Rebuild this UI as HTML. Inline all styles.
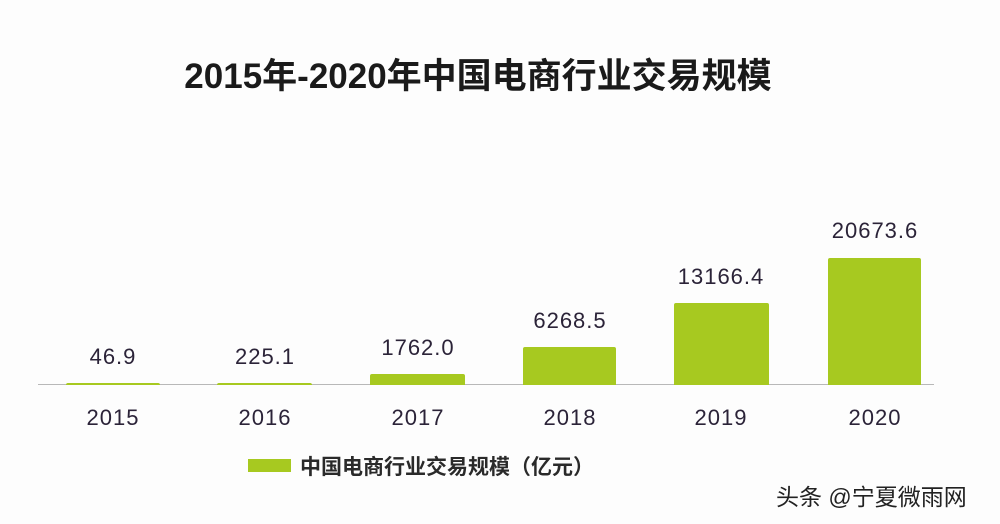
<!DOCTYPE html>
<html><head><meta charset="utf-8"><style>
body{margin:0;width:1000px;height:524px;background:#fdfdfd;position:relative;overflow:hidden;font-family:"Liberation Sans","Noto Sans CJK SC",sans-serif;color:#2b2338}
.t{position:absolute;white-space:nowrap}
.bar{position:absolute;background:#a7c920;border-radius:2px 2px 0 0}
.v{position:absolute;width:160px;text-align:center;font-size:22px;letter-spacing:1px}
</style></head><body>
<div class="t" style="left:0;width:956px;text-align:center;top:48px;font-size:35px;font-weight:bold;color:#1a1a1a">2015年-2020年中国电商行业交易规模</div>
<div style="position:absolute;left:38px;top:384px;width:896px;height:1px;background:#b8b8b8"></div>
<div class="bar" style="left:66px;width:94px;top:383px;height:2px"></div>
<div class="bar" style="left:217px;width:95px;top:383px;height:2px"></div>
<div class="bar" style="left:370px;width:95px;top:374px;height:11px"></div>
<div class="bar" style="left:523px;width:93px;top:347px;height:38px"></div>
<div class="bar" style="left:674px;width:95px;top:303px;height:82px"></div>
<div class="bar" style="left:828px;width:93px;top:258px;height:127px"></div>
<div class="v" style="left:33px;top:344px">46.9</div>
<div class="v" style="left:185px;top:344px">225.1</div>
<div class="v" style="left:338px;top:335px">1762.0</div>
<div class="v" style="left:490px;top:308px">6268.5</div>
<div class="v" style="left:641px;top:264px">13166.4</div>
<div class="v" style="left:795px;top:218px">20673.6</div>
<div class="v" style="left:33px;top:405px">2015</div>
<div class="v" style="left:185px;top:405px">2016</div>
<div class="v" style="left:338px;top:405px">2017</div>
<div class="v" style="left:490px;top:405px">2018</div>
<div class="v" style="left:641px;top:405px">2019</div>
<div class="v" style="left:795px;top:405px">2020</div>
<div class="bar" style="left:248px;width:43px;top:459px;height:13px;border-radius:0"></div>
<div class="t" style="left:300px;top:451px;font-size:21px;font-weight:bold;color:#2a2a2a">中国电商行业交易规模（亿元）</div>
<div class="t" style="left:776px;top:478px;font-size:23px;color:#222;text-shadow:0 0 2px #fff">头条 @宁夏微雨网</div>
</body></html>
